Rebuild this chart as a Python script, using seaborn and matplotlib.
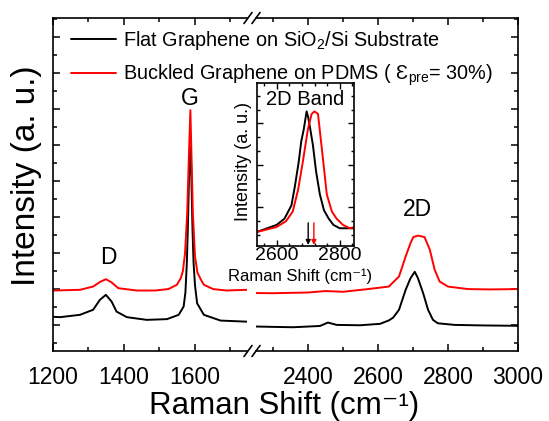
import numpy as np
import pandas as pd
import matplotlib
matplotlib.use("Agg")
import matplotlib.pyplot as plt
from matplotlib.lines import Line2D
from matplotlib.ticker import MultipleLocator, NullFormatter
import seaborn as sns

# ---------------- data ----------------
# Raman shift (cm^-1) and intensity (a.u., offset) -- low-wavenumber segment
flat_lo_x = [1200, 1220, 1276, 1313, 1332, 1349, 1365, 1379, 1408, 1464, 1521, 1554, 1568, 1573,
             1577, 1580, 1583, 1587, 1589, 1591, 1593, 1596, 1600, 1606, 1625, 1672, 1746]
flat_lo_y = [0.45, 0.43, 0.56, 0.84, 1.39, 1.67, 1.30, 0.74, 0.43, 0.28, 0.32, 0.56, 1.02, 1.8,
             3.43, 5.5, 8.07, 9.84, 9.0, 7.14, 5.3, 3.44, 2.2, 1.2, 0.56, 0.24, 0.18]
buck_lo_x = [1200, 1276, 1313, 1332, 1349, 1365, 1384, 1436, 1487, 1525, 1549, 1560, 1566, 1572,
             1578, 1583, 1587, 1590, 1594, 1600, 1607, 1617, 1625, 1651, 1689, 1746]
buck_lo_y = [1.91, 1.95, 2.13, 2.38, 2.54, 2.36, 2.04, 1.91, 1.91, 1.99, 2.23, 2.6, 3.0, 4.0,
             6.2, 9.5, 11.93, 9.5, 6.2, 3.8, 2.9, 2.5, 2.23, 1.99, 1.91, 1.95]
# high-wavenumber segment
flat_hi_x = [2251, 2300, 2358, 2434, 2457, 2482, 2549, 2606, 2631, 2643, 2660, 2679, 2693, 2705,
             2714, 2729, 2743, 2757, 2771, 2819, 2900, 3000]
flat_hi_y = [-0.09, -0.11, -0.13, -0.06, 0.13, 0.0, -0.02, 0.06, 0.25, 0.40, 0.84, 1.95, 2.6, 2.95,
             2.6, 1.76, 0.84, 0.28, 0.09, 0.0, -0.03, -0.05]
buck_hi_x = [2251, 2300, 2400, 2450, 2500, 2571, 2631, 2660, 2679, 2693, 2701, 2714, 2733, 2748,
             2762, 2776, 2800, 2857, 2920, 3000]
buck_hi_y = [1.77, 1.76, 1.80, 1.88, 1.84, 1.99, 2.13, 2.69, 3.8, 4.55, 4.88, 4.96, 4.88, 4.18,
             3.06, 2.41, 2.13, 1.99, 1.97, 1.99]

# inset: 2D band
inset_flat_x = [2537, 2600, 2625, 2647, 2658, 2670, 2678, 2686, 2695, 2700, 2705, 2715, 2725,
                2737, 2750, 2765, 2780, 2800, 2846]
inset_flat_y = [0.40, 0.57, 0.72, 1.04, 1.50, 2.08, 2.57, 2.86, 3.29, 3.15, 2.94, 2.48, 1.85,
                1.30, 0.92, 0.72, 0.57, 0.49, 0.49]
inset_buck_x = [2537, 2600, 2630, 2651, 2668, 2683, 2699, 2711, 2720, 2731, 2742, 2759, 2775,
                2790, 2810, 2832, 2846]
inset_buck_y = [0.40, 0.52, 0.66, 0.89, 1.41, 2.08, 2.86, 3.23, 3.29, 3.23, 2.48, 1.30, 0.89,
                0.72, 0.57, 0.49, 0.52]
inset_peak_x = [2700, 2718]          # arrow positions (flat, buckled)

series_names = ["Flat Graphene on SiO$_2$/Si Substrate",
                "Buckled Graphene on PDMS ( $Ɛ_{pre}$= 30%)"]
series_colors = ["black", "red"]

peak_labels = ["D", "G", "2D"]
peak_label_x = [1355, 1586, 2714]
peak_label_y = [3.73, 12.58, 6.4]

# ---------------- style ----------------
sns.set_style("ticks")
plt.rcParams["font.family"] = ["Liberation Sans", "DejaVu Sans"]
plt.rcParams["mathtext.fontset"] = "custom"
plt.rcParams["mathtext.rm"] = "Liberation Sans"
plt.rcParams["mathtext.it"] = "Liberation Sans:italic"
plt.rcParams["mathtext.default"] = "regular"
plt.rcParams["axes.linewidth"] = 1.2
for key in ("text.color", "axes.labelcolor", "xtick.color", "ytick.color", "axes.edgecolor"):
    plt.rcParams[key] = "black"

W, H = 549, 421
fig = plt.figure(figsize=(W / 100, H / 100), dpi=100)

def px_axes(l, t, r, b):
    return fig.add_axes([l / W, 1 - b / H, (r - l) / W, (b - t) / H])

ax1 = px_axes(53, 18, 247, 351)
ax2 = px_axes(256, 18, 518, 351)
ax2.patch.set_alpha(0)

def long_df(x_list, y_list):
    frames = []
    for name, xs, ys in zip(series_names, x_list, y_list):
        frames.append(pd.DataFrame({"shift": xs, "intensity": ys, "sample": name}))
    return pd.concat(frames, ignore_index=True)

pal = dict(zip(series_names, series_colors))
lo = long_df([flat_lo_x, buck_lo_x], [flat_lo_y, buck_lo_y])
hi = long_df([flat_hi_x, buck_hi_x], [flat_hi_y, buck_hi_y])
sns.lineplot(data=lo, x="shift", y="intensity", hue="sample", palette=pal,
             estimator=None, sort=False, lw=1.4, ax=ax1, legend=False)
sns.lineplot(data=hi, x="shift", y="intensity", hue="sample", palette=pal,
             estimator=None, sort=False, lw=1.4, ax=ax2, legend=False)

ylim = (-1.45, 17.05)
ax1.set_xlim(1200, 1746.5)
ax2.set_xlim(2251.4, 3000)
for ax in (ax1, ax2):
    ax.set_ylim(*ylim)
    ax.xaxis.set_major_locator(MultipleLocator(200))
    ax.xaxis.set_minor_locator(MultipleLocator(100))
    ax.yaxis.set_major_locator(MultipleLocator(2))
    ax.yaxis.set_minor_locator(MultipleLocator(1))
    ax.yaxis.set_major_formatter(NullFormatter())
    ax.tick_params(which="both", direction="in", top=True, bottom=True, width=1.1,
                   labelsize=16.5, pad=11)
    ax.tick_params(which="major", length=5)
    ax.tick_params(which="minor", length=3)
    ax.set_ylabel("")
    ax.set_xlabel("")
ax1.spines["right"].set_visible(False)
ax2.spines["left"].set_visible(False)
ax1.tick_params(which="both", left=True, right=False)
ax2.tick_params(which="both", left=False, right=True, labelleft=False)

ax1.set_ylabel("Intensity (a. u.)", fontsize=24)
ax1.yaxis.label.set_va("center")
ax1.yaxis.set_label_coords((27 - 53) / 194, (351 - 176) / 333)
ax1.set_xlabel("Raman Shift (cm⁻¹)", fontsize=22.5)
ax1.xaxis.label.set_va("baseline")
ax1.xaxis.set_label_coords((284.5 - 53) / 194, (351 - 414) / 333)

# break marks
for yb in (18, 351):
    for x0 in (244, 252):
        fig.add_artist(Line2D([x0 / W, (x0 + 8) / W], [1 - (yb + 5.5) / H, 1 - (yb - 5.5) / H],
                              color="black", lw=1.2))

# peak labels
for lab, lx, ly in zip(peak_labels, peak_label_x, peak_label_y):
    ax = ax1 if lx < 2000 else ax2
    ax.text(lx, ly, lab, fontsize=16.5, ha="center", va="center")

# legend
handles = [Line2D([], [], color=c, lw=1.4) for c in series_colors]
fig.legend(handles, series_names, loc="upper left", bbox_to_anchor=(71 / W, 1 - 29 / H),
           frameon=False, fontsize=14.3, handlelength=2.25, handletextpad=0.35,
           labelspacing=0.55, borderpad=0, borderaxespad=0)

# inset
axi = px_axes(256.7, 83, 354.3, 246)
idf = long_df([inset_flat_x, inset_buck_x], [inset_flat_y, inset_buck_y])
sns.lineplot(data=idf, x="shift", y="intensity", hue="sample", palette=pal,
             estimator=None, sort=False, lw=1.4, ax=axi, legend=False)
axi.set_xlim(2537, 2846)
axi.set_ylim(0.065, 3.97)
axi.xaxis.set_major_locator(MultipleLocator(200))
axi.xaxis.set_minor_locator(MultipleLocator(40))
axi.yaxis.set_major_locator(MultipleLocator(1))
axi.yaxis.set_minor_locator(MultipleLocator(1 / 3))
axi.yaxis.set_major_formatter(NullFormatter())
axi.tick_params(which="both", direction="in", top=True, right=True, width=1.0,
                labelsize=14, pad=1)
axi.tick_params(which="major", length=4)
axi.tick_params(which="minor", length=2.5)
axi.set_xlabel("Raman Shift (cm⁻¹)", fontsize=12)
axi.xaxis.label.set_va("baseline")
axi.xaxis.set_label_coords(0.445, (246 - 281.5) / 163)
axi.set_ylabel("Intensity (a. u.)", fontsize=13)
axi.yaxis.label.set_va("center")
axi.yaxis.set_label_coords((243 - 256.7) / 97.6, 0.52)
axi.text(0.5, 0.9, "2D Band", transform=axi.transAxes, fontsize=14.5, ha="center", va="center")
for px_, c in zip(inset_peak_x, series_colors):
    axi.annotate("", xy=(px_, 0.09), xytext=(px_, 0.62),
                 arrowprops=dict(arrowstyle="-|>", color=c, lw=1.0, mutation_scale=7,
                                 shrinkA=0, shrinkB=0))

fig.savefig("out.png", dpi=100)
